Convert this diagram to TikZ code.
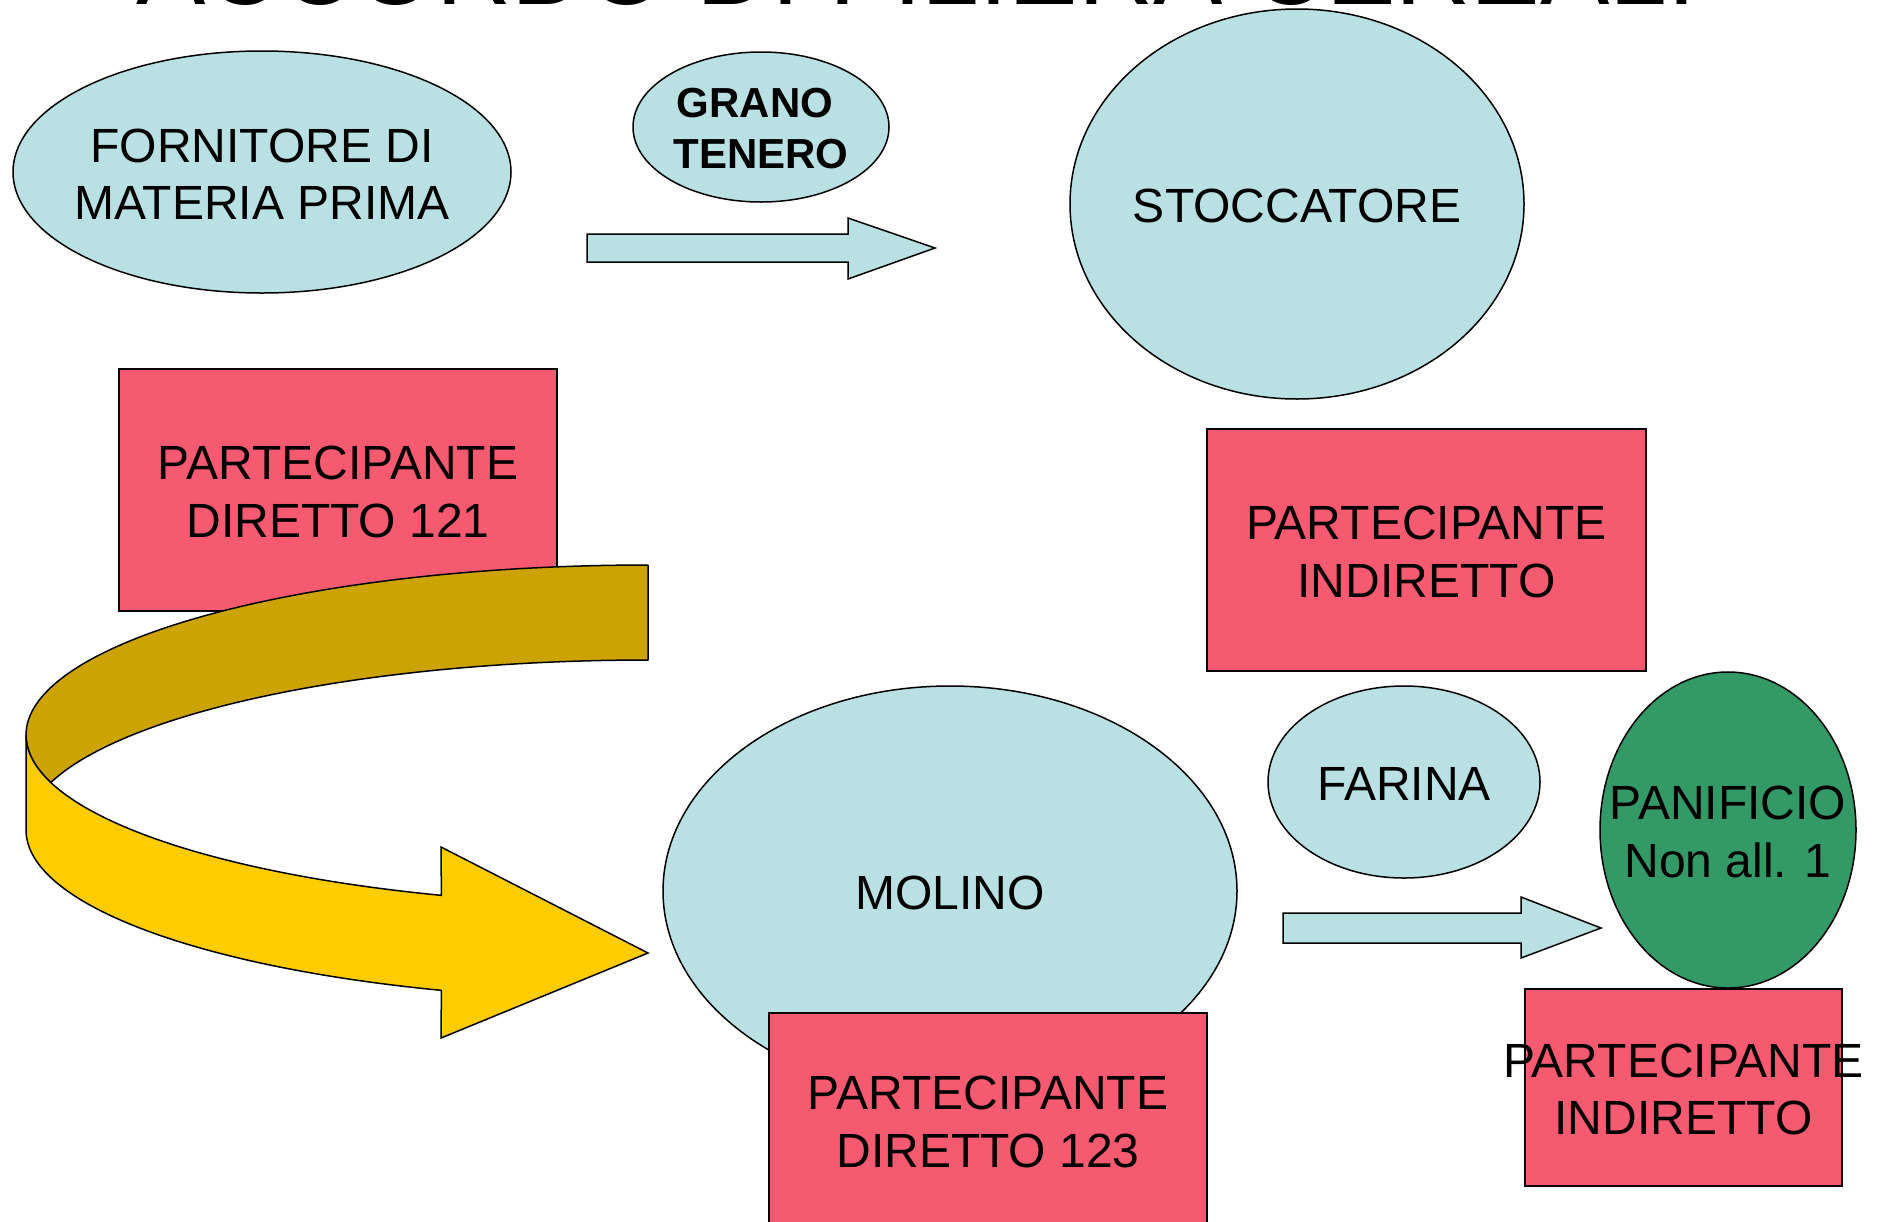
\documentclass[tikz,border=0pt]{standalone}
\usepackage{fontspec}
\setmainfont{Liberation Sans}
\usetikzlibrary{shapes.geometric}
\definecolor{lblue}{HTML}{B9E0E3}
\definecolor{pinkred}{HTML}{F55A71}
\definecolor{darkgold}{HTML}{CCA300}
\definecolor{yell}{HTML}{FFCC00}
\definecolor{dgreen}{HTML}{339966}
\tikzset{
  shp/.style={draw=black, line width=1.5pt},
  ell/.style={shp, ellipse, inner sep=0pt, fill=lblue},
  box/.style={shp, rectangle, inner sep=0pt, fill=pinkred},
  txt/.style={inner sep=0pt, align=center, yshift=-2pt, font=\fontsize{48}{57.5}\selectfont},
  btxt/.style={inner sep=0pt, align=center, yshift=-2pt, font=\bfseries\fontsize{42}{51}\selectfont},
  blockarrow/.style={shp, fill=lblue, line join=miter},
}
\begin{document}
\begin{tikzpicture}[x=1pt,y=-1pt]
\useasboundingbox (0,0) rectangle (1878,1221);
\clip (0,0) rectangle (1878,1221);
\fill[white] (0,0) rectangle (1878,1221);

% title (mostly cut off at the top)
\node[inner sep=0pt, anchor=base west, font=\fontsize{104}{110}\selectfont] (title) at (136,4) {ACCORDO DI FILIERA CEREALI};

% top row
\node[ell, minimum width=498pt, minimum height=242pt] (forn) at (262,172) {};
\node[txt] (fornt) at (forn.center) {FORNITORE DI\\MATERIA PRIMA};

\node[ell, minimum width=256pt, minimum height=150pt] (grano) at (761,127) {};
\node[btxt] (granot) at (grano.center) {GRANO\kern12pt\\TENERO};

\draw[blockarrow] (587,234) -- (848,234) -- (848,218) -- (935,248) -- (848,279) -- (848,262) -- (587,262) -- cycle;

\node[ell, minimum width=454pt, minimum height=390pt] (stocc) at (1297,204) {};
\node[txt] (stocct) at (stocc.center) {STOCCATORE};

% partecipante diretto 121
\node[box, minimum width=438pt, minimum height=242pt] (pd121) at (338,490) {};
\node[txt] (pd121t) at (pd121.center) {PARTECIPANTE\\DIRETTO 121};

% partecipante indiretto (stoccatore)
\node[box, minimum width=439pt, minimum height=242pt] (pi1) at (1426.5,550) {};
\node[txt] (pi1t) at (pi1.center) {PARTECIPANTE\\INDIRETTO};

% curved ribbon arrow
\draw[shp, fill=darkgold, line join=round]
  plot[domain=270:163.8, samples=80, smooth] ({648+622*cos(\x)},{735+170*sin(\x)})
  -- plot[domain=196.2:270, samples=80, smooth] ({648+622*cos(\x)},{830+170*sin(\x)})
  -- cycle;
\draw[shp, fill=yell, line join=miter]
  plot[domain=180:109.4, samples=80, smooth] ({648+622*cos(\x)},{735+170*sin(\x)})
  -- (441,847) -- (648,953) -- (441,1038)
  -- plot[domain=109.4:180, samples=80, smooth] ({648+622*cos(\x)},{830+170*sin(\x)})
  -- cycle;

% molino
\node[ell, minimum width=574pt, minimum height=410pt] (molino) at (950,891) {};
\node[txt] (molinot) at (molino.center) {MOLINO};

\node[box, minimum width=438pt, minimum height=260pt] (pd123) at (988,1143) {};
\node[txt] (pd123t) at (988,1120) {PARTECIPANTE\\DIRETTO 123};

% farina
\node[ell, minimum width=272pt, minimum height=192pt] (farina) at (1404,782) {};
\node[txt] (farinat) at (farina.center) {FARINA};

\draw[blockarrow] (1283,913) -- (1521,913) -- (1521,897) -- (1601,928) -- (1521,958) -- (1521,943) -- (1283,943) -- cycle;

% panificio
\node[ell, fill=dgreen, minimum width=256pt, minimum height=316pt] (panif) at (1728,830) {};
\node[txt] (paniftt) at (panif.center) {PANIFICIO\\Non all. 1};

\node[box, minimum width=317pt, minimum height=197pt] (pi2) at (1683.5,1087.5) {};
\node[txt] (pi2t) at (pi2.center) {PARTECIPANTE\\INDIRETTO};
\end{tikzpicture}
\end{document}
